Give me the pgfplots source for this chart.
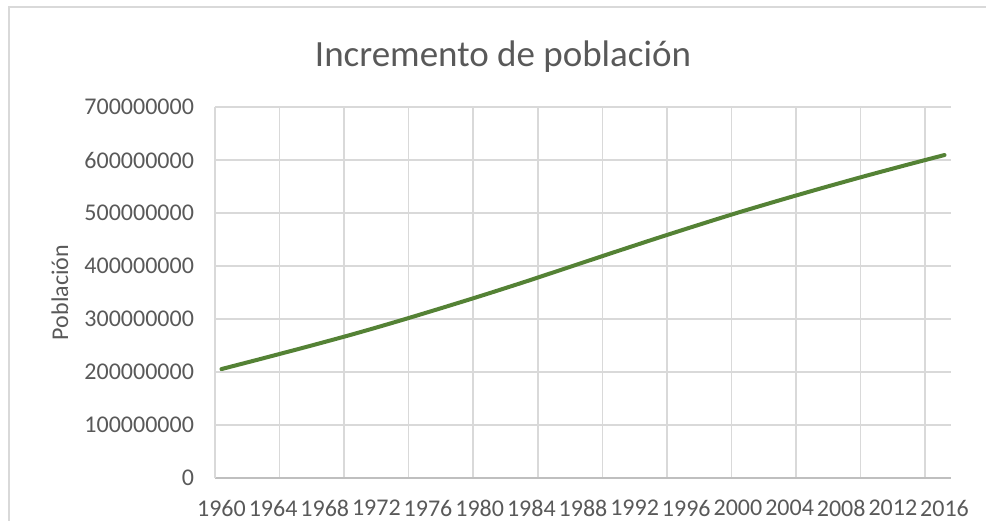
\documentclass[border=0pt]{standalone}
\usepackage{fontspec}
\setmainfont{Carlito}
\usepackage{pgfplots}
\pgfplotsset{compat=1.18}
\usepackage{pgfplotstable}
\definecolor{txt}{HTML}{595959}
\definecolor{gridc}{HTML}{D9D9D9}
\definecolor{axisc}{HTML}{BFBFBF}
\definecolor{linec}{HTML}{548235}
\pgfplotstableread{
year pop
1960 205500000
1961 211800000
1962 218100000
1963 224400000
1964 230800000
1965 237200000
1966 243600000
1967 250100000
1968 256700000
1969 263300000
1970 270000000
1971 276900000
1972 283900000
1973 291000000
1974 298200000
1975 305500000
1976 312900000
1977 320300000
1978 327800000
1979 335300000
1980 342900000
1981 350600000
1982 358400000
1983 366200000
1984 374100000
1985 382200000
1986 390300000
1987 398400000
1988 406500000
1989 414600000
1990 422700000
1991 430700000
1992 438700000
1993 446700000
1994 454600000
1995 462400000
1996 470200000
1997 477900000
1998 485600000
1999 493200000
2000 500700000
2001 508000000
2002 515200000
2003 522400000
2004 529500000
2005 536500000
2006 543500000
2007 550400000
2008 557200000
2009 564000000
2010 570700000
2011 577300000
2012 583800000
2013 590300000
2014 596700000
2015 603100000
2016 609400000
}\popdata
\begin{document}
\begin{tikzpicture}
\path[use as bounding box] (0,0) rectangle (493pt,260pt);
\draw[gridc, line width=0.75pt] (4.5pt,-5pt) -- (4.5pt,256.5pt) -- (500pt,256.5pt);
\node[anchor=base, font=\fontsize{18.5}{22}\selectfont, text=txt, inner sep=0pt] at (251.5pt,226.5pt) {Incremento de población};
\begin{axis}[
  at={(107.5pt,21pt)}, anchor=south west,
  scale only axis, width=368pt, height=185.5pt,
  xmin=1959.5, xmax=2016.5, ymin=0, ymax=700000000,
  scaled y ticks=false, scaled x ticks=false,
  axis x line=bottom, axis y line=left,
  x axis line style={-, draw=axisc, line width=0.75pt},
  y axis line style={-, draw=gridc, line width=0.75pt},
  xtick={1960,1964,1968,1972,1976,1980,1984,1988,1992,1996,2000,2004,2008,2012,2016},
  xticklabels={1960,1964,1968,1972,1976,1980,1984,1988,1992,1996,2000,2004,2008,2012,2016},
  minor xtick={1959.5,1964.5,1969.5,1974.5,1979.5,1984.5,1989.5,1994.5,1999.5,2004.5,2009.5,2014.5},
  xminorgrids, xmajorgrids=false,
  ytick={0,100000000,200000000,300000000,400000000,500000000,600000000,700000000},
  yticklabels={0,100000000,200000000,300000000,400000000,500000000,600000000,700000000},
  ymajorgrids,
  major grid style={gridc, line width=0.75pt},
  minor grid style={gridc, line width=0.75pt},
  major tick length=0pt, minor tick length=0pt,
  tick style={draw=none},
  ticklabel style={font=\fontsize{12}{14}\selectfont, text=txt},
  xticklabel style={yshift=-7.5pt},
  yticklabel style={xshift=-7pt},
  ylabel={Población},
  ylabel style={at={(axis description cs:-0.2106,0.5)}, anchor=center, font=\fontsize{12}{14}\selectfont, text=txt},
]
\addplot[linec, line width=2pt, line cap=round, line join=round] table[x=year, y=pop] {\popdata};
\end{axis}
\end{tikzpicture}
\end{document}
